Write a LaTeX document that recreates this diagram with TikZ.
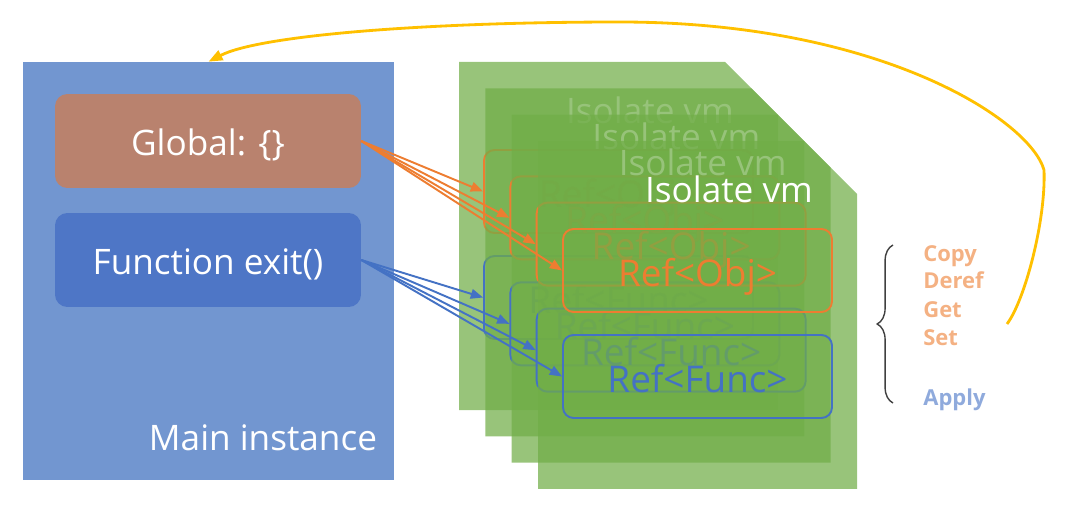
\documentclass[tikz,border=0pt]{standalone}
\usepackage{fontspec}
\setmainfont{Open Sans}
\usepackage{tikz}
\usetikzlibrary{arrows.meta, decorations.pathreplacing}
\definecolor{mainblue}{HTML}{7296D0}
\definecolor{globbrown}{HTML}{B9826E}
\definecolor{fnblue}{HTML}{4E76C6}
\definecolor{vmgreen}{HTML}{70AD47}
\definecolor{refor}{HTML}{ED7D31}
\definecolor{refbl}{HTML}{4472C4}
\definecolor{backyel}{HTML}{FFC000}
\definecolor{opor}{HTML}{F4B183}
\definecolor{opbl}{HTML}{8FAADC}

\begin{document}
\begin{tikzpicture}[x=0.02cm, y=-0.02cm,
    every node/.style={font=\fontsize{20}{24}\selectfont, inner sep=0pt},
    innerbox/.style={rounded corners=7pt, minimum width=6.12cm, minimum height=1.88cm, text=white,
      text height=17pt, text depth=0pt},
    refbox/.style={draw, line width=1.1pt, rounded corners=6pt, minimum width=5.38cm, minimum height=1.66cm,
      font=\fontsize{21}{24}\selectfont, text height=18pt, text depth=0pt},
    oplabel/.style={anchor=base west, font=\bfseries\fontsize{12.5}{14}\selectfont},
    link/.style={line width=1.1pt, -{Triangle[length=7pt,width=5.5pt]}}]
  \useasboundingbox (0,0) rectangle (1067,510);
  % main instance
  \node[fill=mainblue, minimum width=7.42cm, minimum height=8.36cm] (main) at (208.5,271) {};
  \node[innerbox, fill=globbrown] (glob) at (208,141) {Global: \{\}};
  \node[innerbox, fill=fnblue] (func) at (208,260) {Function exit()};
  \node[text=white] (mainlbl) at (263,438) {Main instance};
  % isolate layers
  \foreach \k in {0,1,2,3} {
    \pgfmathsetmacro{\d}{26.33*\k}
    \fill[vmgreen, fill opacity=0.72] (459+\d,62+\d) -- (725+\d,62+\d) -- (778+\d,115+\d)
      -- (778+\d,410+\d) -- (459+\d,410+\d) -- cycle;
    \node[text=white] (iso\k) at (650+\d,110+\d) {Isolate vm};
    \node[refbox, draw=refor, text=refor] (obj\k) at (618.5+\d,191.5+\d) {Ref<Obj>};
    \node[refbox, draw=refbl, text=refbl] (ref\k) at (618.5+\d,297.5+\d) {Ref<Func>};
  }
  % references
  \foreach \k in {0,1,2,3} {
    \draw[link, refor] (glob.east) -- (obj\k.west);
    \draw[link, refbl] (func.east) -- (ref\k.west);
  }
  % operations
  \coordinate (bb) at (893,403);
  \coordinate (bt) at (893,245);
  \draw[black!75, line width=0.8pt, decorate, decoration={brace, amplitude=9pt}] (bb) -- (bt);
  \foreach \t/\yy in {Copy/261, Deref/288, Get/317, Set/345} {
    \node[oplabel, text=opor] (op\t) at (923,\yy) {\t};
  }
  \node[oplabel, text=opbl] (opApply) at (923,405) {Apply};
  % back to main
  \coordinate (back) at (1007,324);
  \draw[backyel, line width=1.6pt, -{Triangle[length=8pt,width=6pt]}] (back)
    .. controls (1025,300) and (1046,220) .. (1044,170)
    .. controls (1030,120) and (880,22) .. (620,22)
    .. controls (430,22) and (260,35) .. (main.north);
\end{tikzpicture}
\end{document}
